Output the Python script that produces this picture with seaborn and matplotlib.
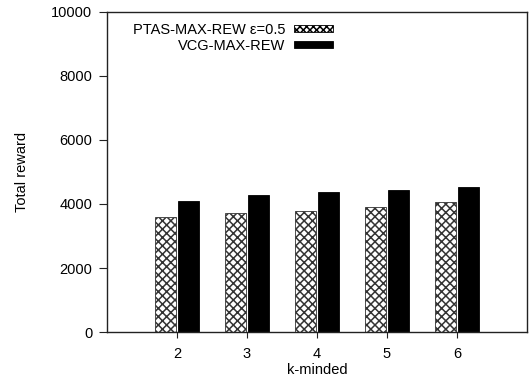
import numpy as np
import pandas as pd
import seaborn as sns
import matplotlib
matplotlib.use('Agg')
import matplotlib.pyplot as plt

# data
k_values = [2, 3, 4, 5, 6]
ptas_reward = [3580, 3710, 3770, 3900, 4050]
vcg_reward = [4090, 4280, 4370, 4440, 4530]
series_names = ['PTAS-MAX-REW ε=0.5', 'VCG-MAX-REW']
y_ticks = [0, 2000, 4000, 6000, 8000, 10000]

df = pd.DataFrame({
    'k': k_values * 2,
    'reward': ptas_reward + vcg_reward,
    'algo': [series_names[0]] * len(k_values) + [series_names[1]] * len(k_values),
})

sns.set_style('white')
plt.rcParams['font.family'] = ['Liberation Sans', 'DejaVu Sans']
plt.rcParams['font.size'] = 10.5
plt.rcParams['text.color'] = 'black'
plt.rcParams['axes.labelcolor'] = 'black'
plt.rcParams['hatch.linewidth'] = 1.1

fig = plt.figure(figsize=(5.32, 3.85), dpi=100)
ax = fig.add_axes([107 / 532, 1 - 332 / 385, 420 / 532, 320 / 385])

sns.barplot(data=df, x='k', y='reward', hue='algo', native_scale=True,
            palette=['white', 'black'], width=0.64, gap=0.08,
            edgecolor='black', linewidth=0.6, errorbar=None, ax=ax)

# crosshatch the PTAS bars
n = len(k_values)
for i, bar in enumerate(ax.patches):
    if i < n:
        bar.set_hatch('xxxx')
        bar.set_edgecolor('#333333')

ax.set_xlim(1, 7)
ax.set_ylim(0, 10000)
ax.set_xticks(k_values)
ax.set_yticks(y_ticks)
ax.set_xlabel('k-minded', labelpad=1)
ax.set_ylabel('Total reward', labelpad=16)

for s in ax.spines.values():
    s.set_visible(True)
    s.set_color('#222222')
    s.set_linewidth(1.0)
ax.tick_params(axis='both', direction='out', width=0.8,
               color='#222222', labelcolor='black')
ax.tick_params(axis='x', length=4, pad=7, bottom=True)
ax.tick_params(axis='y', length=6, pad=4.5, left=True)

handles, labels = ax.get_legend_handles_labels()
handles[0].set_hatch('xxxxx')
leg = ax.legend(handles, labels, loc='upper right', bbox_to_anchor=(0.565, 1.0),
                frameon=False, markerfirst=False, handlelength=2.7,
                handleheight=0.4, labelspacing=0.12, handletextpad=0.6,
                borderaxespad=0.35)

fig.savefig('out.png', dpi=100)
